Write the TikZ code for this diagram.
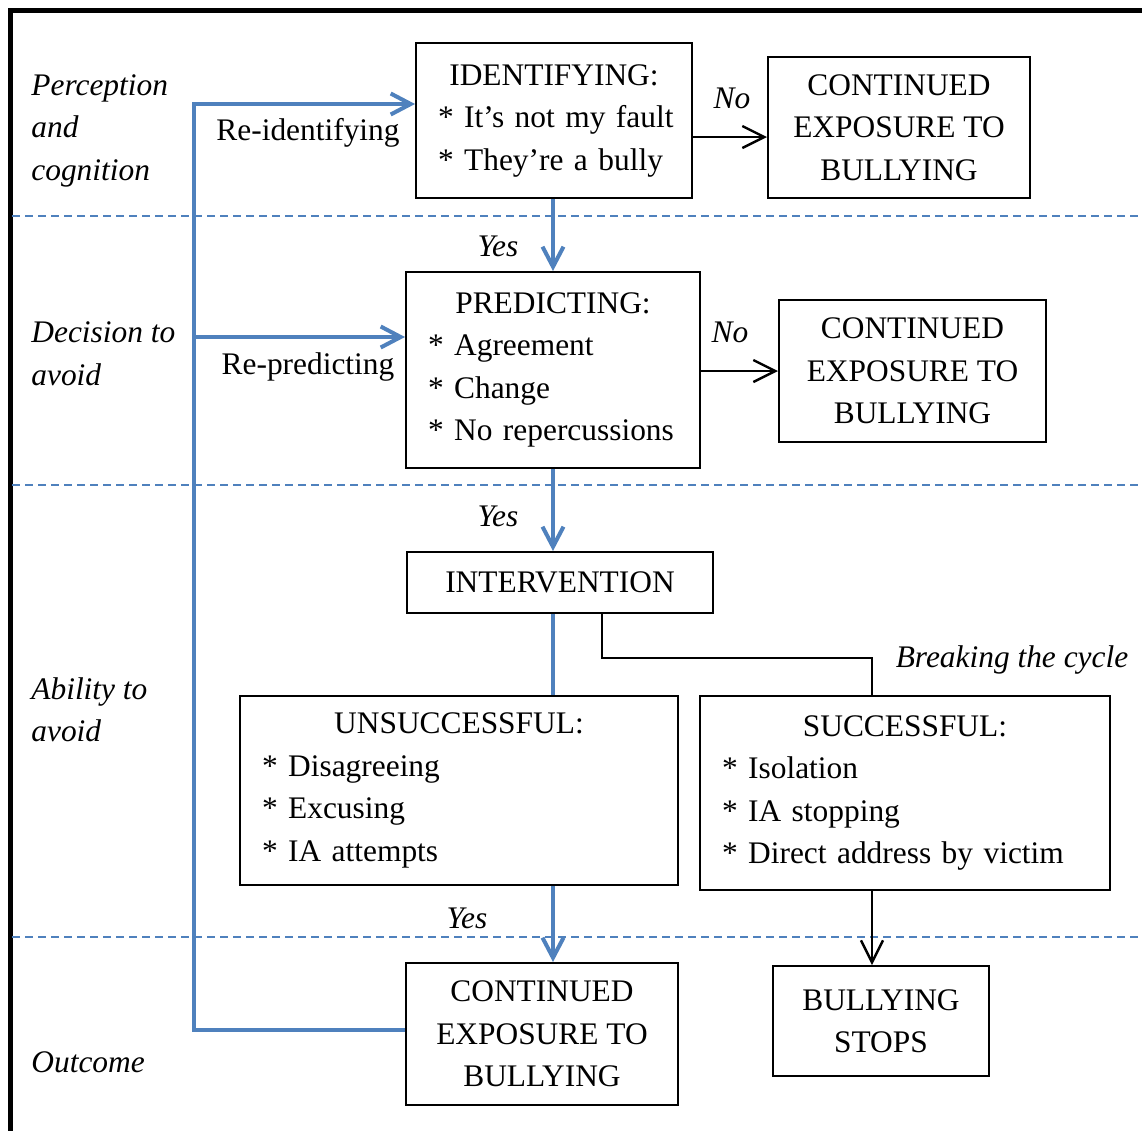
\documentclass[tikz,border=0pt]{standalone}
\usepackage{fontspec}
\setmainfont{Liberation Serif}
\usetikzlibrary{arrows.meta}
\definecolor{office}{RGB}{79,129,189}
\hbadness=10000 \hfuzz=20pt
\begin{document}
\begin{tikzpicture}[x=0.5pt,y=-0.5pt,
  every node/.style={font=\fontsize{15.7}{21.25}\selectfont},
  box/.style={draw,line width=1pt,inner sep=0pt,align=center},
  listbox/.style={draw,line width=1pt,inner xsep=11pt,inner ysep=0pt,align=left},
  lab/.style={inner sep=0pt,font=\fontsize{15.7}{21.25}\selectfont\itshape},
  sidelab/.style={lab,anchor=west,align=left},
  zone/.style={office,line width=1pt,dash pattern=on 4pt off 2.5pt},
  blueline/.style={office,line width=2pt},
  bluearrow/.style={blueline,-{Straight Barb[length=10pt,width=10.5pt]}},
  blackline/.style={black,line width=1.2pt},
  blackarrow/.style={blackline,-{Straight Barb[length=11pt,width=11pt]}}
]
\useasboundingbox (0,0) rectangle (1142,1131);
% frame
\draw[line width=2.5pt] (10.5,1131) -- (10.5,10.5) -- (1142,10.5);
% zone separators
\draw[zone] (12,216) -- (1142,216);
\draw[zone] (12,485) -- (1142,485);
\draw[zone] (12,937) -- (1142,937);

% side labels
\node[sidelab] (l1) at (31,130.5) {Perception\\and\\cognition};
\node[sidelab] (l2) at (31,354) {Decision to\\avoid};
\node[sidelab] (l3) at (31,710) {Ability to\\avoid};
\node[sidelab] (l4) at (31,1062) {Outcome};

% boxes
\node[listbox,text width=116pt,minimum height=77.5pt] (ident) at (554,120.5)
  {\makebox[116pt][c]{IDENTIFYING:}\\\mbox{* It’s not my fault}\\\mbox{* They’re a bully}};
\node[box,minimum width=131pt,minimum height=70.5pt] (cont1) at (899,127.5)
  {CONTINUED\\EXPOSURE TO\\BULLYING};
\node[listbox,text width=125pt,minimum height=98pt] (pred) at (553,370)
  {\makebox[125pt][c]{PREDICTING:}\\\mbox{* Agreement}\\\mbox{* Change}\\\mbox{* No repercussions}};
\node[box,minimum width=133.5pt,minimum height=71pt] (cont2) at (912.5,371)
  {CONTINUED\\EXPOSURE TO\\BULLYING};
\node[box,minimum width=153pt,minimum height=30.5pt] (interv) at (560,582.5)
  {INTERVENTION};
\node[listbox,text width=197pt,minimum height=94.5pt] (unsuc) at (459,790.5)
  {\makebox[197pt][c]{UNSUCCESSFUL:}\\\mbox{* Disagreeing}\\\mbox{* Excusing}\\\mbox{* IA attempts}};
\node[listbox,text width=183pt,minimum height=97pt] (succ) at (905,793)
  {\makebox[183pt][c]{SUCCESSFUL:}\\\mbox{* Isolation}\\\mbox{* IA stopping}\\\mbox{* Direct address by victim}};
\node[box,minimum width=136pt,minimum height=71pt] (cont3) at (542,1034)
  {CONTINUED\\EXPOSURE TO\\BULLYING};
\node[box,minimum width=108pt,minimum height=55pt] (stops) at (881,1021)
  {BULLYING\\STOPS};

% helper coordinates
\coordinate (y1) at (0,137);
\coordinate (xm) at (553,0);
\coordinate (xs) at (872,0);
\coordinate (xr) at (602,0);
\coordinate (yb) at (0,658);
\coordinate (fbb) at (194,1030);
\coordinate (fbt) at (194,104);
\coordinate (fbm) at (194,337);

% connectors
\draw[blackarrow] (ident.east |- y1) -- (cont1.west |- y1);
\draw[bluearrow] (xm |- ident.south) -- (xm |- pred.north);
\draw[blackarrow] (pred.east |- cont2.west) -- (cont2.west);
\draw[bluearrow] (xm |- pred.south) -- (xm |- interv.north);
\draw[blueline] (xm |- interv.south) -- (xm |- unsuc.north);
\draw[blackline] (xr |- interv.south) -- (xr |- yb) -- (xs |- yb) -- (xs |- succ.north);
\draw[bluearrow] (xm |- unsuc.south) -- (xm |- cont3.north);
\draw[blackarrow] (xs |- succ.south) -- (xs |- stops.north);
\draw[bluearrow] (cont3.west |- fbb) -- (fbb) -- (fbt) -- (ident.west |- fbt);
\draw[bluearrow] (fbm) -- (pred.west |- fbm);

% connector labels
\node[lab] (no1) at (732,98) {No};
\node[lab] (no2) at (730,332) {No};
\node[lab] (yes1) at (498,246) {Yes};
\node[lab] (yes2) at (498,516) {Yes};
\node[lab] (yes3) at (467,918) {Yes};
\node[lab] (brk) at (1012,660) {Breaking the cycle};
\node[inner sep=0pt] (reid) at (308,133) {Re-identifying};
\node[inner sep=0pt] (repr) at (308,367) {Re-predicting};
\end{tikzpicture}
\end{document}
